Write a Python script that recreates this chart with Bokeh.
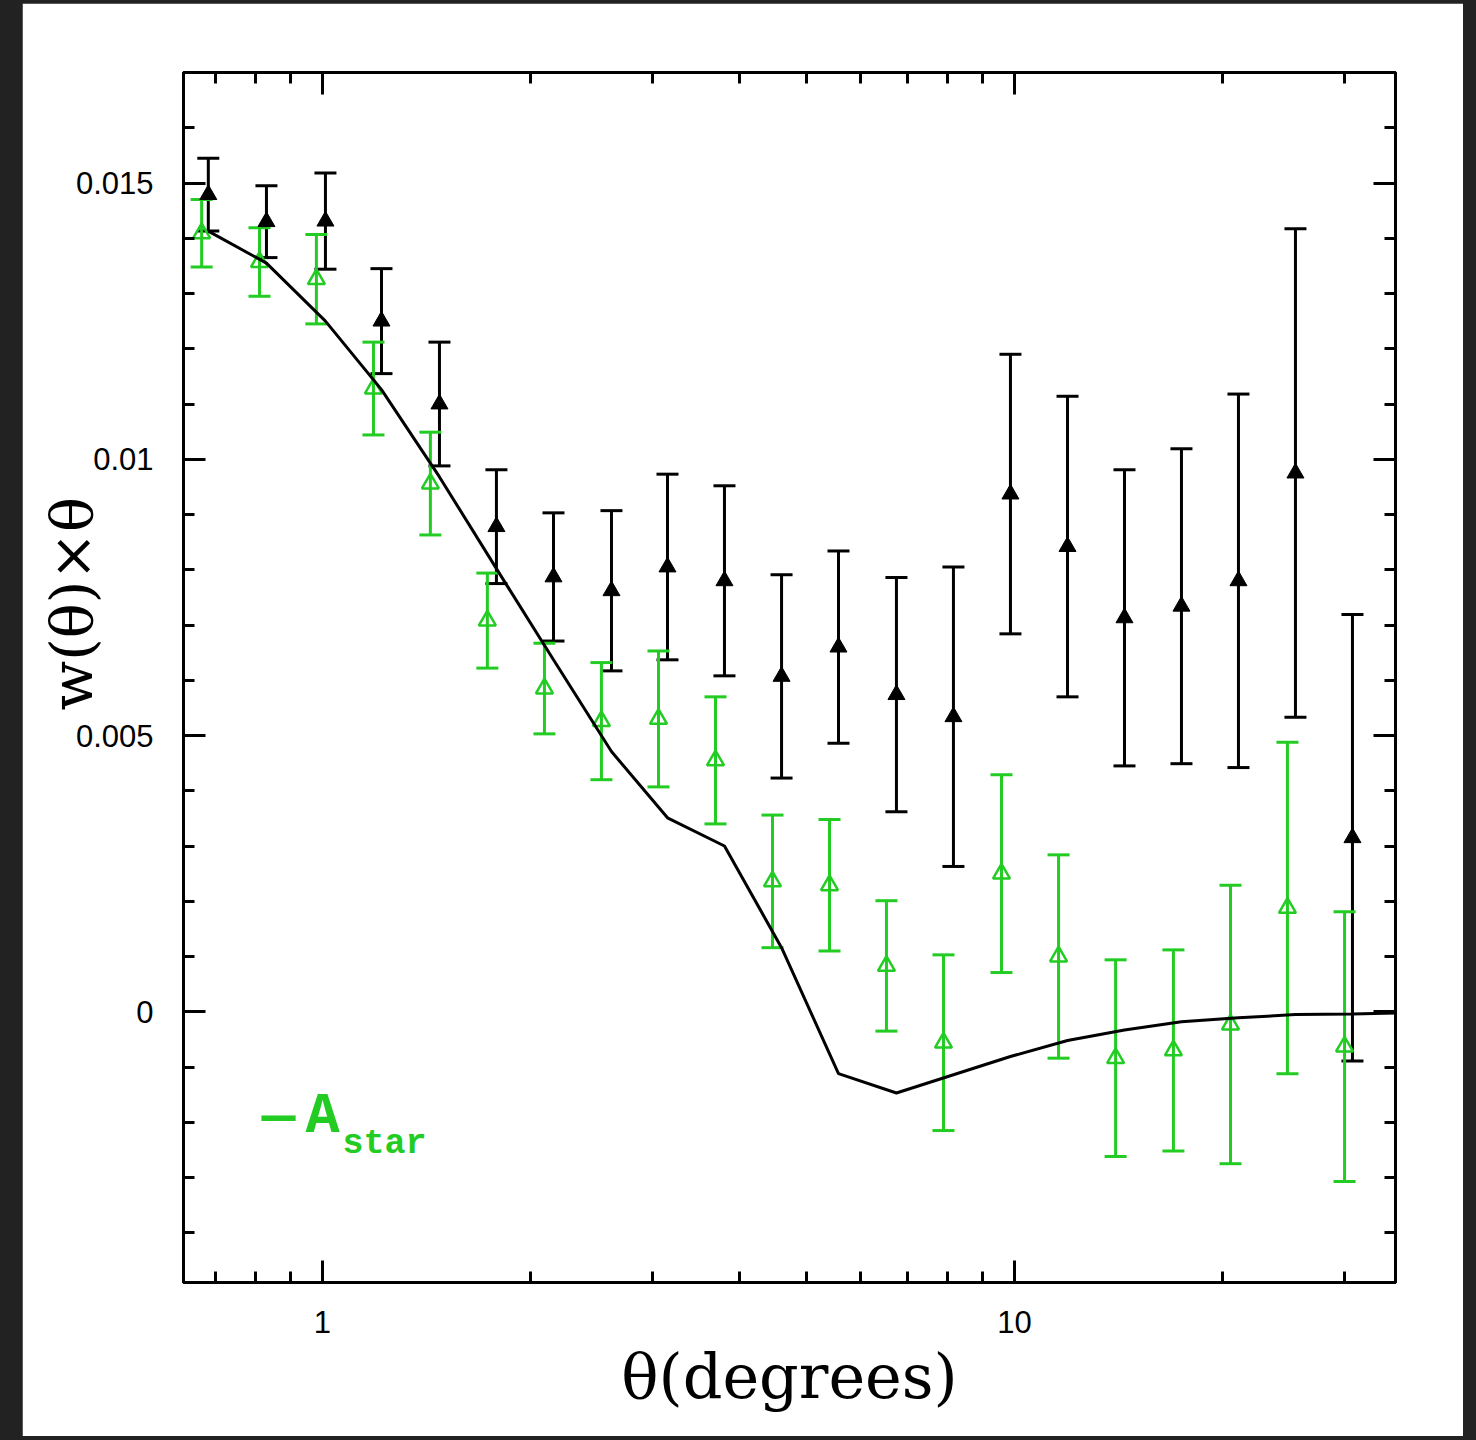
import numpy as np
from bokeh.plotting import figure
from bokeh.models import (ColumnDataSource, Whisker, TeeHead, Range1d, LogAxis,
                          LinearAxis, FixedTicker, CustomJSTickFormatter, Label)
from bokeh.layouts import column
from bokeh.embed import file_html
from bokeh.resources import INLINE

# ---------------- data ----------------
theta_black = [0.684, 0.830, 1.010, 1.217, 1.476, 1.784, 2.157, 2.616, 3.152, 3.810,
               4.607, 5.568, 6.752, 8.162, 9.867, 11.93, 14.42, 17.43, 21.07, 25.47, 30.79]
w_black = [0.01479, 0.01430, 0.01431, 0.01250, 0.01100, 0.00878, 0.00787, 0.00762, 0.00805,
           0.00780, 0.00607, 0.00660, 0.00574, 0.00534, 0.00937, 0.00842, 0.00713, 0.00734,
           0.00780, 0.00975, 0.00315]
err_black = [0.00066, 0.00065, 0.00087, 0.00095, 0.00112, 0.00103, 0.00116, 0.00145, 0.00168,
             0.00172, 0.00184, 0.00174, 0.00212, 0.00271, 0.00253, 0.00272, 0.00268, 0.00285,
             0.00338, 0.00442, 0.00404]

theta_green = [0.669, 0.811, 0.980, 1.185, 1.432, 1.731, 2.093, 2.530, 3.059, 3.698,
               4.470, 5.404, 6.531, 7.896, 9.577, 11.58, 14.00, 16.97, 20.52, 24.80, 29.99]
w_green = [0.01409, 0.01357, 0.01326, 0.01128, 0.00956, 0.00708, 0.00585, 0.00526, 0.00530,
           0.00455, 0.00236, 0.00229, 0.00083, -0.00056, 0.00250, 0.00100, -0.00084, -0.00070,
           -0.00023, 0.00188, -0.00063]
err_green = [0.00061, 0.00062, 0.00081, 0.00084, 0.00093, 0.00086, 0.00082, 0.00106, 0.00123,
             0.00115, 0.00120, 0.00119, 0.00118, 0.00159, 0.00179, 0.00184, 0.00178, 0.00182,
             0.00252, 0.00300, 0.00244]

model_theta = theta_black + [37.0]
model_w = [0.01413, 0.01355, 0.01250, 0.01126, 0.00968, 0.00802, 0.00637, 0.00471, 0.00351,
           0.00300, 0.00116, -0.00112, -0.00147, -0.00114, -0.00081, -0.00052, -0.00033,
           -0.00018, -0.00011, -0.00005, -0.00004, -0.00002]

x_ticks = [1, 10]
x_tick_labels = ["1", "10"]
x_minor_ticks = [0.7, 0.8, 0.9, 2, 3, 4, 5, 6, 7, 8, 9, 20, 30]
y_ticks = [0.0, 0.005, 0.01, 0.015]
y_tick_labels = ["0", "0.005", "0.01", "0.015"]
y_minor_ticks = [round(v, 4) for v in np.arange(-0.004, 0.01705, 0.001)]

x_label = "θ(degrees)"
y_label = "w(θ)×θ"
legend_main = "A"
legend_sub = "star"

GREEN = "#22cc22"
BLACK = "#000000"

# ---------------- figure ----------------
p = figure(width=1441, height=1433, x_axis_type="log",
           x_range=Range1d(0.6298, 35.53), y_range=Range1d(-0.0049, 0.017),
           output_backend="svg", toolbar_location=None,
           min_border_left=161, min_border_right=68, min_border_top=69, min_border_bottom=154,
           background_fill_color="white", border_fill_color="white")
p.grid.visible = False
p.outline_line_color = "black"
p.outline_line_width = 3


def fmt(tvals, tlabels):
    return CustomJSTickFormatter(args=dict(tvals=tvals, tlabels=tlabels), code="""
        for (let i = 0; i < tvals.length; i++) {
            if (Math.abs(tvals[i] - tick) < 1e-9 * Math.max(1, Math.abs(tick))) return tlabels[i];
        }
        return '';
    """)


def style_axis(ax):
    ax.axis_line_width = 3
    ax.axis_line_color = "black"
    ax.major_tick_in = 22
    ax.major_tick_out = 0
    ax.minor_tick_in = 11
    ax.minor_tick_out = 0
    ax.major_tick_line_width = 3
    ax.minor_tick_line_width = 3
    ax.major_label_text_font = "Liberation Sans"
    ax.major_label_text_font_size = "31px"
    ax.major_label_text_color = "black"


xb = p.xaxis[0]
xb.ticker = FixedTicker(ticks=x_ticks, minor_ticks=x_minor_ticks)
xb.formatter = fmt(x_ticks, x_tick_labels)
style_axis(xb)
xb.major_label_standoff = 28
xb.axis_label = x_label
xb.axis_label_text_font = "DejaVu Serif"
xb.axis_label_text_font_size = "62px"
xb.axis_label_text_font_style = "normal"
xb.axis_label_text_color = "black"
xb.axis_label_standoff = 4

yl = p.yaxis[0]
yl.ticker = FixedTicker(ticks=y_ticks, minor_ticks=y_minor_ticks)
yl.formatter = fmt(y_ticks, y_tick_labels)
style_axis(yl)
yl.major_label_standoff = 30
# the label sits above the frame centre in the original: pad its start with no-break spaces
yl.axis_label = "\u00a0" * 8 + y_label
yl.axis_label_text_font = "DejaVu Serif"
yl.axis_label_text_font_size = "58px"
yl.axis_label_text_font_style = "normal"
yl.axis_label_text_color = "black"
yl.axis_label_standoff = -33

xt = LogAxis(ticker=FixedTicker(ticks=x_ticks, minor_ticks=x_minor_ticks),
             formatter=fmt([], []))
style_axis(xt)
xt.major_label_text_font_size = "0px"
p.add_layout(xt, "above")

yr = LinearAxis(ticker=FixedTicker(ticks=y_ticks, minor_ticks=y_minor_ticks),
                formatter=fmt([], []))
style_axis(yr)
yr.major_label_text_font_size = "0px"
p.add_layout(yr, "right")

# ---------------- data glyphs ----------------
src_b = ColumnDataSource(dict(x=theta_black, y=w_black,
                              upper=[a + b for a, b in zip(w_black, err_black)],
                              lower=[a - b for a, b in zip(w_black, err_black)]))
src_g = ColumnDataSource(dict(x=theta_green, y=w_green,
                              upper=[a + b for a, b in zip(w_green, err_green)],
                              lower=[a - b for a, b in zip(w_green, err_green)]))

for src, col in ((src_b, BLACK), (src_g, GREEN)):
    wk = Whisker(source=src, base="x", upper="upper", lower="lower",
                 line_color=col, line_width=3,
                 upper_head=TeeHead(size=22, line_color=col, line_width=3),
                 lower_head=TeeHead(size=22, line_color=col, line_width=3))
    p.add_layout(wk)

p.scatter("x", "y", source=src_b, marker="triangle", size=17,
          fill_color=BLACK, line_color=BLACK, line_width=1)
p.scatter("x", "y", source=src_g, marker="triangle", size=17,
          fill_color=None, line_color=GREEN, line_width=2.5)

p.line(model_theta, model_w, line_color="black", line_width=3)

# ---------------- legend text ----------------
p.add_layout(Label(x=0.8638, y=-0.00190, text="—", text_align="center",
                   text_baseline="middle", text_font="Liberation Mono",
                   text_font_size="56px", text_font_style="bold", text_color=GREEN))
p.add_layout(Label(x=0.9450, y=-0.00190, text=legend_main, text_align="left",
                   text_baseline="alphabetic", text_font="Liberation Mono",
                   text_font_size="57px", text_font_style="bold", text_color=GREEN))
p.add_layout(Label(x=1.0688, y=-0.00240, text=legend_sub, text_align="left",
                   text_baseline="alphabetic", text_font="Liberation Mono",
                   text_font_size="35px", text_font_style="bold", text_color=GREEN))

layout = column(p, styles={"background-color": "#222222",
                           "padding": "3px 13px 4px 22px"})

open("out.html", "w").write(file_html(layout, INLINE))
